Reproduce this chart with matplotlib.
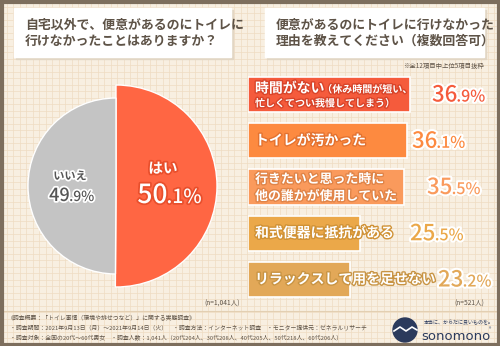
import matplotlib.pyplot as plt
import matplotlib.patheffects as pe
from matplotlib.patches import Rectangle, Circle
import numpy as np

plt.rcParams['font.family'] = ['Noto Sans CJK JP', 'DejaVu Sans']

# pie data
pie_labels = ['はい', 'いいえ']
pie_values = [50.1, 49.9]
pie_colors = ['#FF6643', '#C4C4C4']

# bar data
bar_labels = [
    ['時間がない', '（休み時間が短い、', '忙しくてつい我慢してしまう）'],
    ['トイレが汚かった'],
    ['行きたいと思った時に', '他の誰かが使用していた'],
    ['和式便器に抵抗がある'],
    ['リラックスして用を足せない'],
]
bar_values = [36.9, 36.1, 35.5, 25.5, 23.2]
bar_colors = ['#F55B3C', '#FD8A40', '#FA9A5C', '#EBA849', '#E2A858']
bar_edges = ['#D8442A', '#E37230', '#E08448', '#D09236', '#C89444']

title_left = ['自宅以外で、便意があるのにトイレに', '行けなかったことはありますか？']
title_right = ['便意があるのにトイレに行けなかった', '理由を教えてください（複数回答可）']
note_right = '※全12項目中上位5項目抜粋'
n_left = '(n=1,041人)'
n_right = '(n=521人)'
footer = [
    '《調査概要：「トイレ事情（環境や排せつなど）」に関する実態調査》',
    '・調査期間：2021年9月13日（月）～2021年9月14日（火）　・調査方法：インターネット調査　・モニター提供元：ゼネラルリサーチ',
    '・調査対象：全国の20代～60代男女　・調査人数：1,041人（20代204人、30代208人、40代205人、50代218人、60代206人）',
]

W, H = 500, 346
fig = plt.figure(figsize=(W / 100, H / 100), dpi=100)
bg = fig.add_axes([0, 0, 1, 1], zorder=0)
bg.set_xlim(0, W)
bg.set_ylim(H, 0)
bg.axis('off')

# background + grid
bg.add_patch(Rectangle((0, 0), W, H, color='#F8EFE1', zorder=0))
for gx in np.arange(0, W, 6.5):
    bg.plot([gx, gx], [0, H], color='#EFDCC2', lw=0.5, zorder=0.5)
for gy in np.arange(0, H, 6.5):
    bg.plot([0, W], [gy, gy], color='#EFDCC2', lw=0.5, zorder=0.5)
bg.plot([0, W], [311, 311], color='#E3CFB2', lw=0.8, zorder=0.6)

# overlay axes for text, above pie and bars
fg = fig.add_axes([0, 0, 1, 1], zorder=10)
fg.set_xlim(0, W)
fg.set_ylim(H, 0)
fg.axis('off')
fg.patch.set_alpha(0)
fg.add_patch(Rectangle((1.5, 1.5), W - 3, H - 3, fill=False, ec='#7D6E5D', lw=3, zorder=5))

text_col = '#5E5347'


def title_box(x0, x1, lines):
    bg.add_patch(Rectangle((x0 + 2, 10), x1 - x0, 49, color='#E2D6C4', zorder=1))
    bg.add_patch(Rectangle((x0, 8), x1 - x0, 49, color='white', zorder=1.1))
    for i, ln in enumerate(lines):
        fg.text(x0 + 11, 25 + i * 16, ln, fontsize=9.3, color=text_col, fontweight='bold',
                va='center', ha='left', zorder=2)


title_box(14, 231, title_left)
title_box(265, 484, title_right)
fg.text(484, 66, note_right, fontsize=4.6, color=text_col, ha='right', va='center')

renderer = fig.canvas.get_renderer()


def rich(x, y, parts, color, effects, ha='left', weight='bold'):
    # parts: list of (text, fontsize), drawn side by side on a common baseline
    objs = []
    widths = []
    for s, fs in parts:
        t = fg.text(x, y, s, fontsize=fs, color=color, fontweight=weight, va='baseline',
                    ha='left', path_effects=effects, zorder=4)
        widths.append(t.get_window_extent(renderer).width)
        objs.append(t)
    total = sum(widths)
    start = x - total / 2 if ha == 'center' else x
    cx = start
    for t, w in zip(objs, widths):
        t.set_x(cx)
        cx += w * 0.97
    return cx


# pie
cx, cy, r = 116, 186, 101
pax = fig.add_axes([(cx - r) / W, 1 - (cy + r) / H, 2 * r / W, 2 * r / H], zorder=2)
wedges, _ = pax.pie(pie_values, colors=pie_colors, startangle=90, counterclock=False,
                    wedgeprops=dict(edgecolor='white', linewidth=1))
wedges[1].set_radius(88 / 101)
pax.set_xlim(-1, 1)
pax.set_ylim(-1, 1)
pax.set_aspect('equal')
pax.axis('off')

orange_fx = [pe.withStroke(linewidth=2.5, foreground='#E84F2C')]
grey_fx = [pe.withStroke(linewidth=2.5, foreground='white')]
fg.text(163, 168, pie_labels[0], fontsize=10.5, color='white', fontweight='bold', ha='center',
        va='center', path_effects=orange_fx, zorder=4)
yes_main, yes_dec = f'{pie_values[0]:.1f}'.split('.')
rich(170, 203, [(yes_main, 19), ('.' + yes_dec + '%', 14)], 'white', orange_fx,
     ha='center', weight='medium')
fg.text(70, 176, pie_labels[1], fontsize=8, color='#555555', fontweight='bold', ha='center',
        va='center', path_effects=grey_fx, zorder=4)
no_main, no_dec = f'{pie_values[1]:.1f}'.split('.')
rich(72, 201, [(no_main, 13), ('.' + no_dec + '%', 10)], '#555555', grey_fx,
     ha='center', weight='medium')
fg.text(222, 304, n_left, fontsize=4.8, color=text_col, ha='center', va='center')

# bars
bx0, top, unit = 248, 71.4, 46.25
xmax = 55
bax = fig.add_axes([bx0 / W, 1 - (top + 5 * unit) / H, (xmax * 4.4) / W, 5 * unit / H], zorder=2)
ypos = np.arange(len(bar_values))
bax.barh(ypos, bar_values, height=0.76, color=bar_colors, edgecolor='white', linewidth=1.2)
bax.set_xlim(0, xmax)
bax.set_ylim(len(bar_values) - 0.5, -0.5)
bax.axis('off')

value_x = [432, 412, 427, 410, 438]
for i, (lab, v) in enumerate(zip(bar_labels, bar_values)):
    yc = top + unit * (i + 0.5)
    fx = [pe.withStroke(linewidth=2, foreground=bar_edges[i])]
    if i == 0:
        rich(255, yc - 2, [(lab[0], 10), (lab[1], 7.2)], 'white', fx)
        fg.text(255, yc + 9, lab[2], fontsize=7.2, color='white', fontweight='bold',
                va='center', ha='left', path_effects=fx, zorder=4)
    elif len(lab) == 2:
        fg.text(255, yc - 8, lab[0], fontsize=9.3, color='white', fontweight='bold',
                va='center', ha='left', path_effects=fx, zorder=4)
        fg.text(255, yc + 9, lab[1], fontsize=9.3, color='white', fontweight='bold',
                va='center', ha='left', path_effects=fx, zorder=4)
    else:
        fg.text(255, yc, lab[0], fontsize=10, color='white', fontweight='bold',
                va='center', ha='left', path_effects=fx, zorder=4)
    main, dec = f'{v:.1f}'.split('.')
    rich(value_x[i], yc + 7, [(main, 16), ('.' + dec + '%', 11.5)], bar_colors[i],
         [pe.withStroke(linewidth=3, foreground='white')], weight='medium')

fg.text(484, 304, n_right, fontsize=4.8, color=text_col, ha='right', va='center')

# footer
for i, ln in enumerate(footer):
    fg.text(8 if i == 0 else 10, 318 + i * 10, ln, fontsize=4.2, color=text_col,
            ha='left', va='center')

# logo
navy = '#2B3A5C'
fg.add_patch(Circle((405, 330), 12, color=navy, zorder=3))
fg.plot([394, 400, 406, 412, 417], [331, 327, 331, 327, 330], color='white', lw=1.2, zorder=4)
fg.text(424, 323, '本当に、からだに良いものを。', fontsize=3.6, color=navy, ha='left', va='center')
fg.text(421, 336, 'sonomono', fontsize=9.5, color=navy, ha='left', va='center',
        family='DejaVu Sans')
fg.text(489, 330, '®', fontsize=3.5, color=navy, ha='left', va='center')

fig.savefig('out.png', dpi=100)
